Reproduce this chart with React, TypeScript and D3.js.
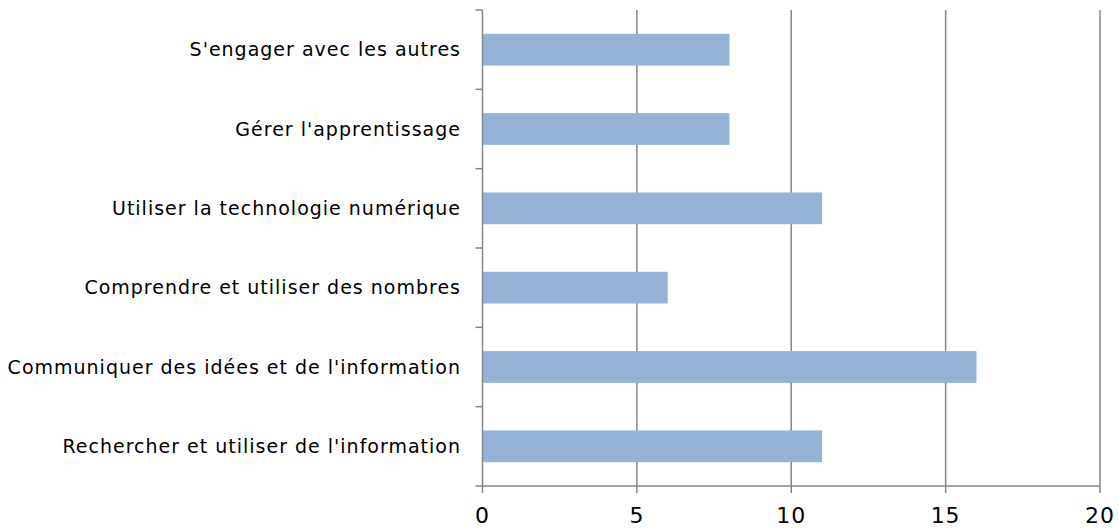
import React from "react";
import * as d3 from "d3";

const categories = [
  "S'engager avec les autres",
  "Gérer l'apprentissage",
  "Utiliser la technologie numérique",
  "Comprendre et utiliser des nombres",
  "Communiquer des idées et de l'information",
  "Rechercher et utiliser de l'information",
];
const values = [8, 8, 11, 6, 16, 11];
const xTicks = [0, 5, 10, 15, 20];

const W = 1119,
  H = 528;
const margin = { top: 10, right: 19, bottom: 42, left: 482.5 };
const axisColor = "#868686";
const barColor = "#95B3D7";
const font = "'DejaVu Sans', sans-serif";

export default function App() {
  const x = d3
    .scaleLinear()
    .domain([0, 20])
    .range([margin.left, W - margin.right]);
  const y = d3
    .scaleBand()
    .domain(categories)
    .range([margin.top, H - margin.bottom])
    .paddingInner(0.6)
    .paddingOuter(0.3);
  const step = y.step();
  const bounds = d3.range(categories.length + 1).map((i) => margin.top + i * step);
  const bottom = H - margin.bottom;

  return (
    <svg
      width={W}
      height={H}
      style={{ position: "absolute", left: 0, top: 0, fontFamily: font }}
    >
      {xTicks.slice(1).map((t) => (
        <line key={"g" + t} x1={x(t)} x2={x(t)} y1={margin.top} y2={bottom} stroke={axisColor} strokeWidth={1.5} />
      ))}
      {categories.map((c, i) => (
        <rect key={c} x={x(0)} y={y(c)} width={x(values[i]) - x(0)} height={y.bandwidth()} fill={barColor} />
      ))}
      <line x1={x(0)} x2={x(0)} y1={margin.top} y2={bottom} stroke={axisColor} strokeWidth={1.5} />
      {bounds.map((b, i) => (
        <line key={"yt" + i} x1={x(0) - 7} x2={x(0)} y1={b} y2={b} stroke={axisColor} strokeWidth={1.5} />
      ))}
      <line x1={x(0)} x2={x(20)} y1={bottom} y2={bottom} stroke={axisColor} strokeWidth={1.5} />
      {xTicks.map((t) => (
        <g key={"xt" + t}>
          <line x1={x(t)} x2={x(t)} y1={bottom} y2={bottom + 7} stroke={axisColor} strokeWidth={1.5} />
          <text x={x(t)} y={bottom + 37} textAnchor="middle" fontSize={22} letterSpacing={1} fill="#000">
            {t}
          </text>
        </g>
      ))}
      {categories.map((c) => (
        <text
          key={"l" + c}
          x={461}
          y={(y(c) as number) + y.bandwidth() / 2}
          dy="0.35em"
          textAnchor="end"
          fontSize={19}
          letterSpacing={1}
          fill="#000"
        >
          {c}
        </text>
      ))}
    </svg>
  );
}
